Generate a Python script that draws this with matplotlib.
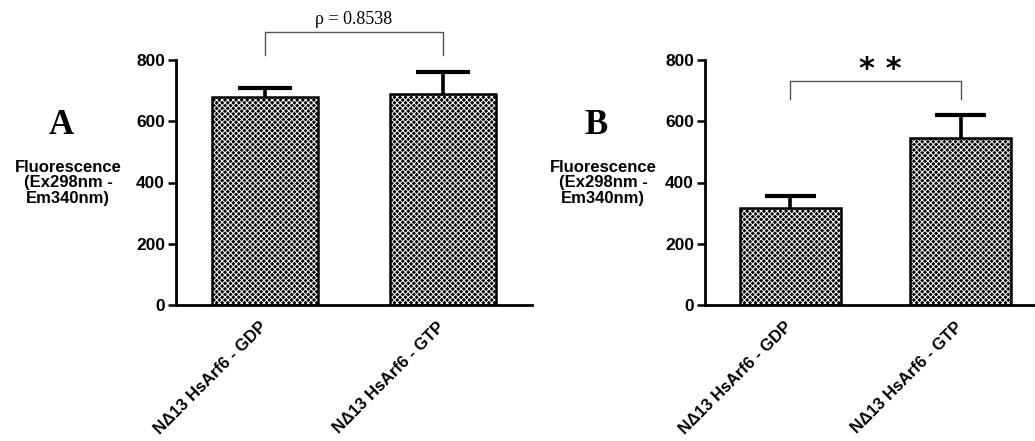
import matplotlib.pyplot as plt
import matplotlib.transforms as mtransforms
import numpy as np

categorias = ["NΔ13 HsArf6 - GDP", "NΔ13 HsArf6 - GTP"]
medias_a = [678, 688]
erros_a = [32, 73]
medias_b = [316, 544]
erros_b = [41, 76]
ticks_y = [0, 200, 400, 600, 800]

plt.rcParams['font.family'] = ['Liberation Sans', 'DejaVu Sans']
plt.rcParams['hatch.linewidth'] = 0.7

fig = plt.figure(figsize=(10.35, 4.41), dpi=100)
W, H = 1035, 441


def painel(x0, largura, medias, erros, letra, lx):
    ax = fig.add_axes([x0 / W, 1 - 305 / H, largura / W, 245 / H])
    x = np.arange(len(categorias))
    medias = np.array(medias)
    erros = np.array(erros)
    # barra com textura quadriculada
    ax.bar(x, medias, width=0.59, color="black", edgecolor="white",
           hatch="xxxxxx", linewidth=0, zorder=2)
    ax.bar(x, medias, width=0.59, fill=False, edgecolor="black",
           linewidth=1.8, zorder=3)
    # só a parte de cima do erro
    ax.vlines(x, medias, medias + erros, color="black", lw=2.6, zorder=1)
    ax.hlines(medias + erros, x - 0.15, x + 0.15, color="black", lw=3, zorder=1)
    ax.set_xlim(-0.5, 1.5)
    ax.set_ylim(0, 800)
    ax.set_yticks(ticks_y)
    ax.set_yticklabels([str(t) for t in ticks_y], fontsize=12.5, fontweight="bold")
    ax.set_xticks(x)
    ax.set_xticklabels([])
    # rótulos do eixo x, girados e um pouco à esquerda do centro da barra
    trans = mtransforms.blended_transform_factory(ax.transData, ax.transAxes)
    desloc = mtransforms.ScaledTranslation(-6 / 100, -14 / 100, fig.dpi_scale_trans)
    for xi, rot in zip(x, categorias):
        ax.text(xi, 0, rot, transform=trans + desloc, rotation=45, ha="right",
                va="top", rotation_mode="anchor", fontsize=12, fontweight="bold")
    ax.tick_params(axis="y", length=6, width=1.8, pad=2)
    ax.tick_params(axis="x", length=0)
    for s in ["top", "right"]:
        ax.spines[s].set_visible(False)
    ax.spines["left"].set_linewidth(2)
    ax.spines["bottom"].set_linewidth(2)
    ax.patch.set_alpha(0)
    fig.text(lx / W, 1 - 125 / H, letra, family="Liberation Serif",
             fontweight="bold", fontsize=25, ha="center", va="center")
    fig.text((lx + 7) / W, 1 - 183 / H, "Fluorescence\n(Ex298nm -\nEm340nm)",
             fontsize=12, fontweight="bold", ha="center", va="center",
             linespacing=1.0)
    return ax


ax_a = painel(176, 356, medias_a, erros_a, "A", 61)
ax_b = painel(705, 341, medias_b, erros_b, "B", 596)

# colchete de comparação A
ax_a.plot([0, 0, 1, 1], [816, 891, 891, 816], color="#555555", lw=1,
          clip_on=False)
ax_a.text(0.5, 905, "ρ = 0.8538", family="Liberation Serif", fontsize=13,
          ha="center", va="bottom")

# colchete de comparação B
ax_b.plot([0, 0, 1, 1], [672, 732, 732, 672], color="#555555", lw=1,
          clip_on=False)
ax_b.text(0.53, 770, "* *", family="DejaVu Sans", fontsize=22,
          fontweight="bold", ha="center", va="center")

fig.savefig("out.png", dpi=100)
